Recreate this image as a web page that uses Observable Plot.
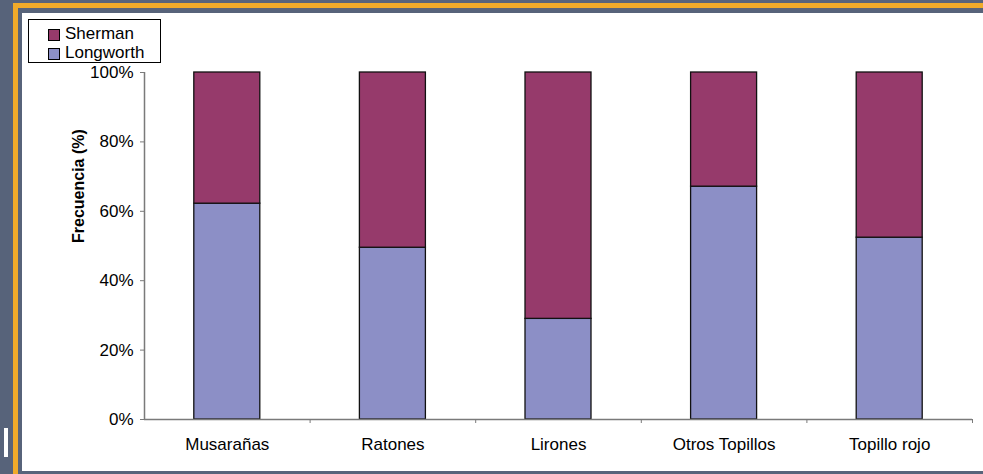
<!DOCTYPE html>
<html>
<head>
<meta charset="utf-8">
<script src="https://cdn.jsdelivr.net/npm/d3@7"></script>
<script src="https://cdn.jsdelivr.net/npm/@observablehq/plot@0.6"></script>
<style>
  html, body { margin: 0; padding: 0; }
  body { width: 983px; height: 474px; background: #57637a; position: relative; overflow: hidden;
         font-family: Arial, "Liberation Sans", sans-serif; }
  #orange { position: absolute; left: 13px; top: 3px; right: 0; bottom: 0; background: #f0aa2a; }
  #gap { position: absolute; left: 18px; top: 8px; right: 0; bottom: 0; background: #57637a; }
  #panel { position: absolute; left: 22px; top: 13px; width: 961px; height: 458px; background: #fff; }
  #chart { position: absolute; left: 0; top: 0; }
  #cursor { position: absolute; left: 4px; top: 428px; width: 4px; height: 29px; background: #fff; }
  #legend { position: absolute; left: 28px; top: 19px; width: 131px; height: 42px; border: 1px solid #000;
            background: #fff; font-size: 17px; color: #000; }
  .row { position: absolute; left: 0; height: 18px; line-height: 18px; white-space: nowrap; }
  .sw { position: absolute; left: 19px; top: 3px; width: 10px; height: 10px; border: 1px solid #000; }
  .lab { position: absolute; left: 36px; top: -1px; }
</style>
</head>
<body>
<div id="orange"></div>
<div id="gap"></div>
<div id="cursor"></div>
<div id="panel"><div id="chart"></div></div>
<div id="legend"></div>
<script>
const categories = ["Musarañas", "Ratones", "Lirones", "Otros Topillos", "Topillo rojo"];
const longworth = [62.2, 49.5, 29.0, 67.1, 52.4];
const sherman = [37.8, 50.5, 71.0, 32.9, 47.6];
const seriesNames = ["Sherman", "Longworth"];
const seriesColors = ["#963a6b", "#8c8fc6"];
const yTicks = [0, 20, 40, 60, 80, 100];
const yTitle = "Frecuencia (%)";

const rows = categories.flatMap((c, i) => [
  {cat: c, i, series: "Longworth", value: longworth[i]},
  {cat: c, i, series: "Sherman", value: sherman[i]}
]);

const axisGray = "#7a7a7a";

const plot = Plot.plot({
  width: 961,
  height: 458,
  marginLeft: 122,
  marginRight: 11,
  marginTop: 59,
  marginBottom: 52,
  style: {fontFamily: "Arial, 'Liberation Sans', sans-serif", fontSize: "17px", background: "transparent", color: "#000"},
  x: {domain: [0, categories.length]},
  y: {domain: [0, 100]},
  color: {domain: seriesNames, range: seriesColors},
  marks: [
    Plot.rectY(rows, {
      x1: "i", x2: d => d.i + 1, y: "value", fill: "series",
      stroke: "#111", strokeWidth: 1.3, insetLeft: 49.8, insetRight: 49.8
    }),
    Plot.ruleY([0], {stroke: axisGray, strokeWidth: 1.5}),
    Plot.ruleX([0], {stroke: axisGray, strokeWidth: 1.5}),
    Plot.axisY({ticks: yTicks, tickFormat: d => d + "%", tickSize: 4, tickPadding: 7, stroke: axisGray, fill: "#000", label: null, fontSize: 17}),
    Plot.axisX({ticks: d3.range(1, categories.length + 1), tickFormat: () => "", tickSize: 4, stroke: axisGray, label: null}),
    Plot.text(categories, {x: (d, i) => i + 0.5, text: d => d, frameAnchor: "bottom", lineAnchor: "top", dy: 18, fontSize: 17, fill: "#000"}),
    Plot.text([yTitle], {text: d => d, frameAnchor: "left", rotate: -90, dx: -66, dy: -3, fontWeight: "bold", fontSize: 16, fill: "#000"})
  ]
});
document.getElementById("chart").appendChild(plot);

const legend = document.getElementById("legend");
seriesNames.forEach((name, k) => {
  const row = document.createElement("div");
  row.className = "row";
  row.style.top = (6 + k * 18.7) + "px";
  const sw = document.createElement("span");
  sw.className = "sw";
  sw.style.background = seriesColors[k];
  const lab = document.createElement("span");
  lab.className = "lab";
  lab.textContent = name;
  row.appendChild(sw);
  row.appendChild(lab);
  legend.appendChild(row);
});
</script>
</body>
</html>
